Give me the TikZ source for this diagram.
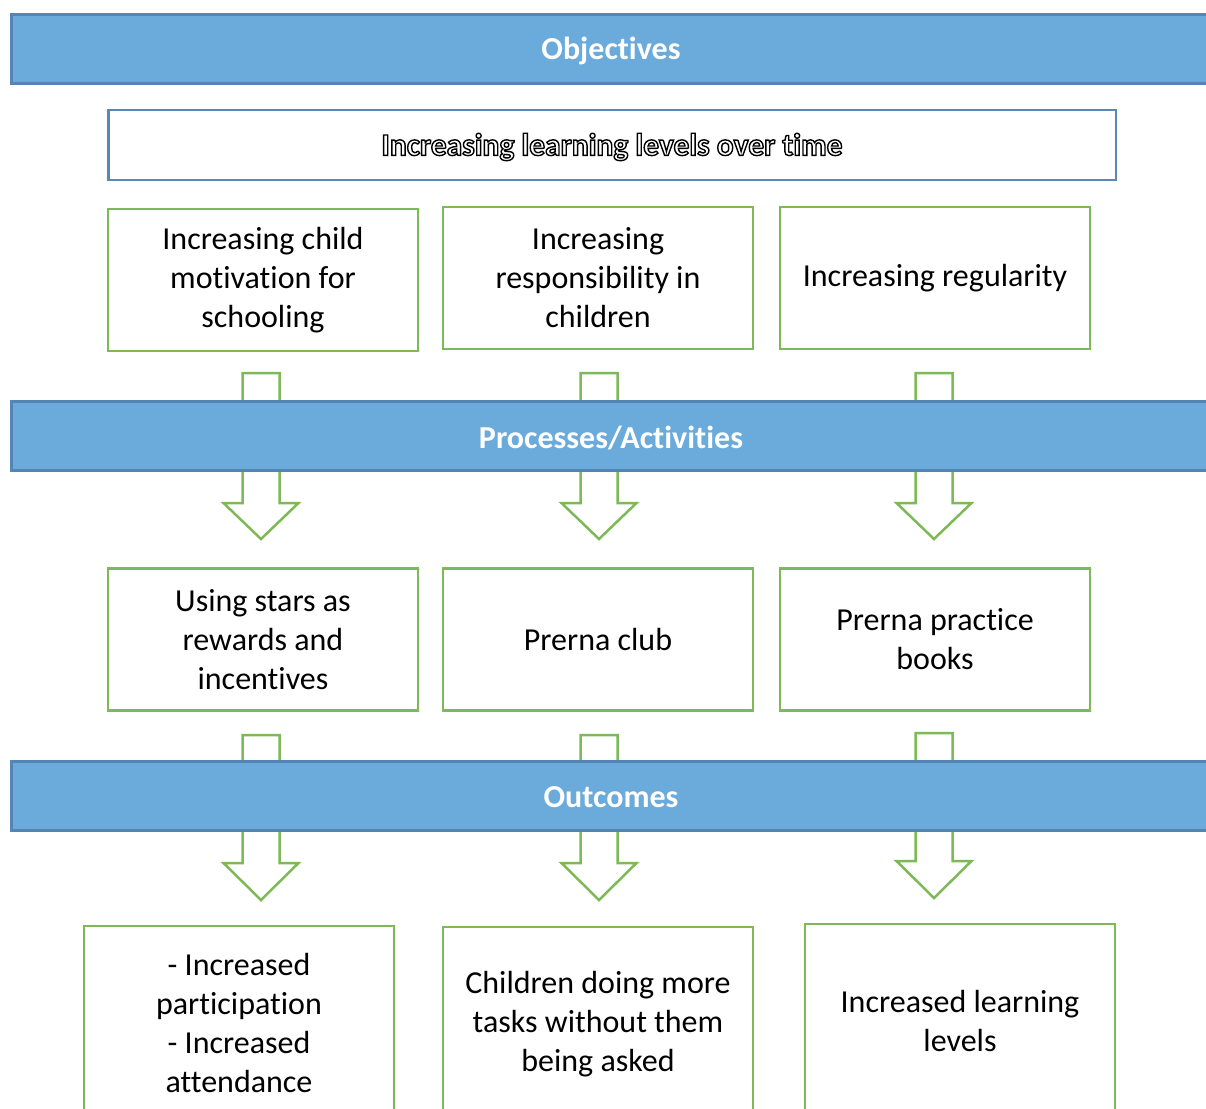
\documentclass[tikz,border=0pt]{standalone}
\usepackage{fontspec}
\setmainfont{Carlito}[Ligatures=NoCommon]
\definecolor{barfill}{HTML}{6AABDB}
\definecolor{barline}{HTML}{5485B5}
\definecolor{boxgreen}{HTML}{7DBA57}
\definecolor{boxblue}{HTML}{5A87B3}
% hollow (stroked) lettering for the goal line
\newcommand\hollowtext[1]{\special{pdf:literal direct 1 Tr 1.4 w}#1\special{pdf:literal direct 0 Tr}}
% block arrow: centre x, top y, head base y, tip y
\newcommand\blockarrow[4]{%
  \draw[fatarrow] (#1-18.5,#2) -- (#1+18.5,#2) -- (#1+18.5,#3) -- (#1+37.5,#3)
    -- (#1,#4) -- (#1-37.5,#3) -- (#1-18.5,#3) -- cycle;}
\tikzset{
  bar/.style={draw=barline, fill=barfill, line width=3pt, text=white,
    font=\bfseries\fontsize{32}{38}\selectfont,
    minimum width=1199pt, minimum height=69pt, inner sep=0pt},
  barlabel/.style={text=white, font=\bfseries\fontsize{32}{38}\selectfont, inner sep=0pt},
  goalbox/.style={draw=boxblue, fill=white, line width=2.5pt,
    font=\bfseries\fontsize{31.5}{38}\selectfont,
    minimum width=1007.5pt, minimum height=70pt, inner sep=0pt},
  greenbox/.style={draw=boxgreen, fill=white, line width=2.5pt, align=center,
    font=\fontsize{32}{39}\selectfont,
    minimum width=310pt, minimum height=142pt, inner sep=0pt},
  tallbox/.style={greenbox, minimum height=194pt},
  fatarrow/.style={draw=boxgreen, fill=white, line width=2.5pt, line join=miter}
}
\begin{document}
\begin{tikzpicture}[x=1pt,y=-1pt]
\useasboundingbox (0,0) rectangle (1206,1108);
\clip (0,0) rectangle (1206,1108);
\fill[white] (0,0) rectangle (1206,1108);

% arrows sit behind the section bars
\blockarrow{261}{373}{503}{539}
\blockarrow{599}{373}{503}{539}
\blockarrow{934}{373}{503}{539}
\blockarrow{261}{735}{863}{900}
\blockarrow{599}{735}{863}{900}
\blockarrow{934}{733}{861}{898}

% section bars
\node[bar] (objectives) at (611,49) {};
\node[barlabel] (objectiveslabel) at (611,51) {Objectives};
\node[bar] (processes) at (611,436) {};
\node[barlabel] (processeslabel) at (611,438) {Processes/Activities};
\node[bar] (outcomes) at (611,795.5) {};
\node[barlabel] (outcomeslabel) at (611,797) {Outcomes};

% goal
\node[goalbox] (goal) at (612,145) {};
\node[font=\bfseries\fontsize{31.5}{38}\selectfont, inner sep=0pt] (goallabel) at (612,147) {\hollowtext{Increasing learning levels over time}};

% objectives
\node[greenbox] (obj1) at (263,280) {Increasing child\\motivation for\\schooling};
\node[greenbox] (obj2) at (598,278) {Increasing\\responsibility in\\children};
\node[greenbox] (obj3) at (935,278) {Increasing regularity};

% processes
\node[greenbox] (proc1) at (263,639.5) {Using stars as\\rewards and\\incentives};
\node[greenbox] (proc2) at (598,639.5) {Prerna club};
\node[greenbox] (proc3) at (935,639.5) {Prerna practice\\books};

% outcomes
\node[tallbox] (out1) at (239,1023) {- Increased\\participation\\- Increased\\attendance};
\node[tallbox] (out2) at (598,1024) {Children doing more\\tasks without them\\being asked};
\node[tallbox] (out3) at (960,1021) {Increased learning\\levels};
\end{tikzpicture}
\end{document}
